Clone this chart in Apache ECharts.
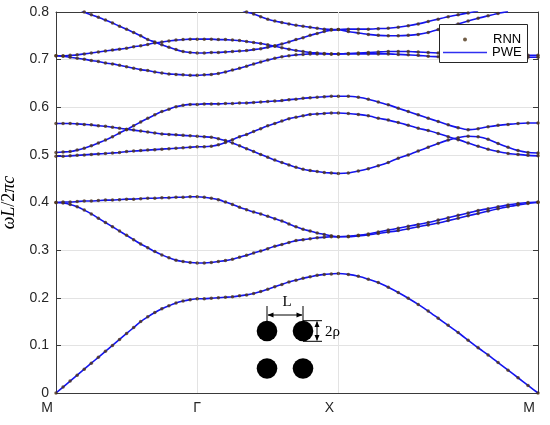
<!DOCTYPE html>
<html>
<head>
<meta charset="utf-8">
<script src="https://cdn.jsdelivr.net/npm/echarts@6/dist/echarts.min.js"></script>
<style>
  html, body { margin: 0; padding: 0; background: #fff; }
  #chart { width: 550px; height: 425px; }
</style>
</head>
<body>
<div id="chart"></div>
<script>
// k path M -> Γ -> X -> M, 20 steps on each leg (X-M leg is √2 longer)
const kNodes = [0, 1, 2, 2 + Math.SQRT2];
const kLabels = ['M', 'Γ', 'X', 'M'];
const stepsPerLeg = 20;
const yTicks = [0, 0.1, 0.2, 0.3, 0.4, 0.5, 0.6, 0.7, 0.8];

// normalized frequency ωL/2πc of each band (null = above the plot)
const band1 = [0, .0125, .025, .0375, .05, .0625, .075, .0875, .100, .1125, .125, .1375, .150, .160, .169, .177, .183, .189, .193, .196, .198,
  .198, .199, .200, .201, .202, .204, .206, .209, .213, .218, .223, .228, .233, .237, .241, .244, .247, .249, .250, .251,
  .249, .245, .239, .232, .222, .211, .199, .186, .172, .157, .142, .127, .111, .095, .080, .064, .048, .032, .016, 0];
const band2 = [.400, .399, .396, .391, .384, .376, .367, .358, .349, .340, .331, .322, .313, .305, .297, .290, .284, .279, .276, .274, .273,
  .273, .274, .276, .278, .281, .285, .289, .294, .298, .303, .308, .312, .316, .320, .322, .324, .326, .327, .328, .328,
  .328, .330, .332, .335, .338, .341, .345, .349, .353, .357, .362, .367, .372, .377, .382, .387, .391, .395, .398, .400];
const band3 = [.400, .401, .401, .402, .403, .403, .404, .405, .405, .406, .407, .407, .408, .409, .409, .410, .410, .411, .411, .412, .412,
  .411, .409, .406, .401, .396, .390, .385, .380, .376, .371, .366, .361, .355, .349, .344, .340, .336, .333, .330, .328,
  .329, .331, .334, .338, .342, .346, .350, .354, .358, .363, .368, .373, .378, .383, .387, .391, .395, .398, .400, .401];
const band4 = [.497, .497, .498, .499, .500, .501, .502, .503, .504, .505, .507, .508, .509, .510, .511, .512, .513, .514, .515, .516, .517,
  .517, .518, .521, .526, .532, .538, .543, .549, .555, .561, .566, .571, .576, .579, .582, .585, .586, .587, .588, .588,
  .587, .585, .582, .577, .573, .568, .562, .556, .551, .545, .538, .532, .525, .518, .512, .507, .503, .501, .499, .498];
const band5 = [.505, .506, .507, .510, .514, .519, .525, .531, .538, .546, .553, .561, .569, .577, .584, .591, .596, .601, .604, .606, .606,
  .607, .607, .607, .608, .608, .609, .609, .610, .611, .612, .613, .614, .616, .617, .619, .620, .621, .622, .623, .623,
  .623, .621, .617, .611, .605, .598, .591, .584, .577, .570, .563, .557, .553, .555, .559, .562, .564, .566, .567, .567];
const band6 = [.566, .566, .566, .565, .564, .563, .561, .560, .558, .556, .554, .552, .550, .548, .546, .544, .543, .542, .541, .540, .539,
  .538, .537, .534, .530, .525, .519, .513, .507, .501, .495, .489, .484, .479, .474, .470, .467, .465, .463, .462, .461,
  .462, .466, .471, .477, .484, .493, .500, .508, .516, .524, .531, .536, .539, .538, .533, .524, .516, .509, .505, .504];
const band7 = [.708, .707, .705, .703, .701, .698, .696, .693, .691, .688, .685, .682, .679, .677, .674, .672, .670, .669, .668, .667, .667,
  .668, .669, .671, .674, .678, .682, .686, .691, .695, .699, .703, .706, .708, .710, .711, .712, .712, .712, .712, .712,
  .712, .712, .712, .712, .712, .711, .710, .709, .707, .706, .705, .705, .705, .705, .705, .705, .705, .705, .705, .705];
const band8 = [.708, .708, .709, .710, .712, .714, .716, .718, .720, .722, .724, .727, .729, .732, .735, .737, .739, .741, .742, .743, .743,
  .743, .743, .742, .742, .741, .740, .738, .736, .734, .731, .728, .725, .722, .719, .717, .715, .714, .713, .712, .712,
  .713, .714, .715, .716, .717, .717, .717, .716, .715, .714, .713, .712, .712, .711, .711, .710, .710, .709, .709, .709];
const band9 = [null, null, null, .809, .800, .794, .789, .783, .777, .770, .764, .757, .750, .742, .737, .731, .726, .721, .717, .715, .714,
  .714, .715, .715, .716, .717, .718, .719, .721, .723, .726, .729, .733, .737, .742, .746, .751, .755, .759, .762, .763,
  .764, .764, .764, .765, .766, .768, .771, .775, .780, .785, .790, .794, .798, .802, null, null, null, null, null, null];
const band10 = [null, null, null, null, null, null, null, null, null, null, null, null, null, null, null, null, null, null, null, null, null,
  null, null, null, null, null, .807, .800, .796, .790, .785, .781, .778, .775, .772, .770, .768, .766, .764, .763, .763,
  .759, .756, .753, .751, .750, .750, .751, .753, .757, .763, .769, .775, .781, .787, .792, .797, .801, null, null, null];

const bands = [band1, band2, band3, band4, band5, band6, band7, band8, band9, band10];

// abscissa of every sample along the path
const kPath = [];
for (let s = 0; s < 3; s++) {
  for (let j = (s === 0 ? 0 : 1); j <= stepsPerLeg; j++) {
    kPath.push(kNodes[s] + (kNodes[s + 1] - kNodes[s]) * j / stepsPerLeg);
  }
}

const labelFont = 'Liberation Sans, Arial, Helvetica, sans-serif';
const axisColor = '#3a3a3a';
const lineColor = '#1414ee';
const dotColor = '#4e3416';

const lineSeries = bands.map(b => ({
  name: 'PWE',
  type: 'line',
  data: b.map((v, i) => [kPath[i], v == null ? '-' : v]),
  symbol: 'none',
  showSymbol: false,
  smooth: 0.2,
  connectNulls: false,
  lineStyle: { color: lineColor, width: 1.6 },
  itemStyle: { color: lineColor },
  z: 2
}));

const rnnPoints = [];
bands.forEach(b => b.forEach((v, i) => { if (v != null) rnnPoints.push([kPath[i], v]); }));

const chart = echarts.init(document.getElementById('chart'));

chart.setOption({
  animation: false,
  backgroundColor: '#fff',
  grid: { left: 56, right: 12, top: 12, bottom: 32, outerBoundsMode: 'none' },
  legend: [
    {
      data: [{ name: 'RNN', icon: 'circle', itemStyle: { color: dotColor } }],
      left: 463, top: 33, padding: 0,
      itemWidth: 4, itemHeight: 4, selectedMode: false, z: 60,
      textStyle: { fontFamily: labelFont, fontSize: 13, color: '#000', padding: [0, 0, 0, 21] }
    },
    {
      data: [{ name: 'PWE', icon: 'path://M0 0H44V1.3H0Z', itemStyle: { color: '#3030f0' } }],
      left: 443, top: 46, padding: 0,
      itemWidth: 44, itemHeight: 14, selectedMode: false, z: 60,
      textStyle: { fontFamily: labelFont, fontSize: 13, color: '#000' }
    }
  ],
  xAxis: [
    {
      type: 'value', min: kNodes[0], max: kNodes[3], position: 'bottom',
      axisLine: { show: true, onZero: false, lineStyle: { color: axisColor, width: 1 } },
      axisTick: { show: true, inside: true, length: 5, customValues: kNodes, lineStyle: { color: axisColor } },
      axisLabel: {
        customValues: kNodes,
        margin: 8,
        fontFamily: labelFont, fontSize: 14, color: '#262626',
        formatter: v => {
          const idx = kNodes.findIndex(n => Math.abs(n - v) < 1e-6);
          if (idx < 0) return '';
          return idx === 1 ? kLabels[idx] : '{s|' + kLabels[idx] + '}';
        },
        rich: { s: { padding: [0, 18, 0, 0], fontFamily: labelFont, fontSize: 14, color: '#262626' } }
      },
      splitLine: { show: false }
    },
    {
      type: 'value', min: kNodes[0], max: kNodes[3], position: 'top',
      axisLine: { show: true, onZero: false, lineStyle: { color: axisColor, width: 1 } },
      axisTick: { show: true, inside: true, length: 5, customValues: kNodes, lineStyle: { color: axisColor } },
      axisLabel: { show: false },
      splitLine: { show: false }
    }
  ],
  yAxis: [
    {
      type: 'value', min: 0, max: 0.8, interval: 0.1, position: 'left',
      name: '{i|ωL}{n|/2}{i|πc}',
      nameLocation: 'middle', nameGap: 35,
      nameTextStyle: {
        rich: {
          i: { fontFamily: 'Liberation Serif, serif', fontStyle: 'italic', fontSize: 18, color: '#000' },
          n: { fontFamily: 'Liberation Serif, serif', fontSize: 18, color: '#000' }
        }
      },
      axisLine: { show: true, onZero: false, lineStyle: { color: axisColor, width: 1 } },
      axisTick: { show: true, inside: true, length: 5, lineStyle: { color: axisColor } },
      axisLabel: {
        margin: 7, fontFamily: labelFont, fontSize: 14, color: '#262626',
        formatter: v => yTicks.some(t => Math.abs(t - v) < 1e-6) ? String(Math.round(v * 10) / 10) : ''
      },
      splitLine: { show: true, lineStyle: { color: '#e3e3e3', width: 1 } }
    },
    {
      type: 'value', min: 0, max: 0.8, interval: 0.1, position: 'right',
      axisLine: { show: true, onZero: false, lineStyle: { color: axisColor, width: 1 } },
      axisTick: { show: true, inside: true, length: 5, lineStyle: { color: axisColor } },
      axisLabel: { show: false },
      splitLine: { show: false }
    }
  ],
  series: [
    {
      name: 'grid', type: 'line', data: [], z: 1, silent: true,
      markLine: {
        silent: true, symbol: 'none', label: { show: false },
        lineStyle: { color: '#e3e3e3', width: 1, type: 'solid' },
        data: [{ xAxis: kNodes[1] }, { xAxis: kNodes[2] }]
      }
    },
    ...lineSeries,
    {
      name: 'RNN',
      type: 'scatter',
      data: rnnPoints,
      symbol: 'circle',
      symbolSize: 3.5,
      itemStyle: { color: dotColor },
      clip: true,
      z: 5
    }
  ],
  graphic: [
    // legend box
    { type: 'rect', shape: { x: 439.5, y: 24.5, width: 88, height: 38 }, style: { fill: '#fff', stroke: '#262626', lineWidth: 1 }, z: 50 },
    // unit-cell sketch
    { type: 'circle', shape: { cx: 267, cy: 331, r: 10.3 }, style: { fill: '#000' }, z: 10 },
    { type: 'circle', shape: { cx: 303, cy: 331, r: 10.3 }, style: { fill: '#000' }, z: 10 },
    { type: 'circle', shape: { cx: 267, cy: 368.5, r: 10.3 }, style: { fill: '#000' }, z: 10 },
    { type: 'circle', shape: { cx: 303, cy: 368.5, r: 10.3 }, style: { fill: '#000' }, z: 10 },
    { type: 'line', shape: { x1: 267, y1: 306, x2: 267, y2: 324 }, style: { stroke: '#000', lineWidth: 1 }, z: 11 },
    { type: 'line', shape: { x1: 303, y1: 306, x2: 303, y2: 324 }, style: { stroke: '#000', lineWidth: 1 }, z: 11 },
    { type: 'line', shape: { x1: 268, y1: 315, x2: 302, y2: 315 }, style: { stroke: '#000', lineWidth: 1 }, z: 11 },
    { type: 'polygon', shape: { points: [[267.5, 315], [273.5, 312.5], [273.5, 317.5]] }, style: { fill: '#000' }, z: 11 },
    { type: 'polygon', shape: { points: [[302.5, 315], [296.5, 312.5], [296.5, 317.5]] }, style: { fill: '#000' }, z: 11 },
    { type: 'line', shape: { x1: 303, y1: 320.7, x2: 322, y2: 320.7 }, style: { stroke: '#000', lineWidth: 1 }, z: 11 },
    { type: 'line', shape: { x1: 303, y1: 341.3, x2: 322, y2: 341.3 }, style: { stroke: '#000', lineWidth: 1 }, z: 11 },
    { type: 'line', shape: { x1: 317, y1: 321.5, x2: 317, y2: 340.5 }, style: { stroke: '#000', lineWidth: 1 }, z: 11 },
    { type: 'polygon', shape: { points: [[317, 321.2], [314.5, 327], [319.5, 327]] }, style: { fill: '#000' }, z: 11 },
    { type: 'polygon', shape: { points: [[317, 340.8], [314.5, 335], [319.5, 335]] }, style: { fill: '#000' }, z: 11 },
    { type: 'text', x: 287, y: 302, style: { text: 'L', font: '15px "Liberation Serif", serif', fill: '#000', align: 'center', verticalAlign: 'middle' }, z: 11 },
    { type: 'text', x: 325, y: 332, style: { text: '2ρ', font: '15px "Liberation Serif", serif', fill: '#000', align: 'left', verticalAlign: 'middle' }, z: 11 }
  ]
});
</script>
</body>
</html>
